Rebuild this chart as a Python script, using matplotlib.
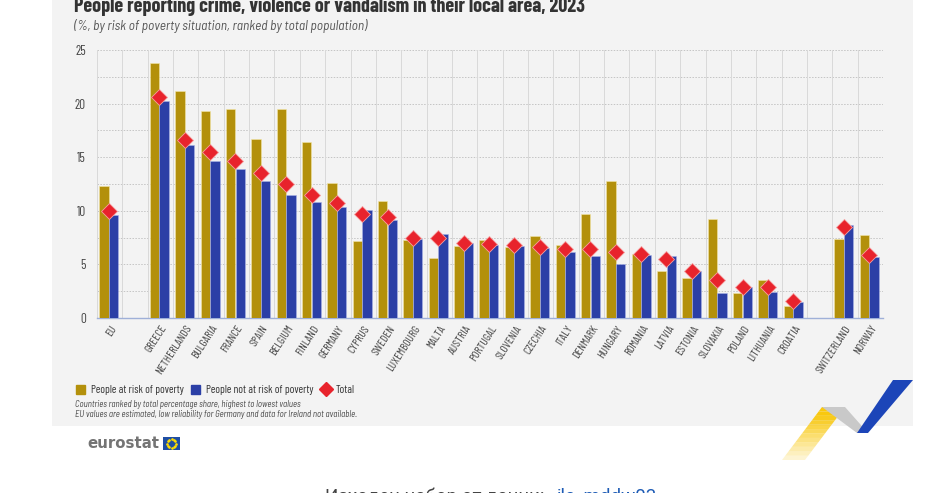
import matplotlib
matplotlib.use('Agg')
import matplotlib.pyplot as plt
from matplotlib.patches import Rectangle, Polygon
from matplotlib.lines import Line2D
import numpy as np

narrow = ['Barlow Semi Condensed', 'DejaVu Sans']
cond = ['Barlow Condensed', 'DejaVu Sans']

# ---- data ----
countries = ['EU', 'GREECE', 'NETHERLANDS', 'BULGARIA', 'FRANCE', 'SPAIN', 'BELGIUM',
             'FINLAND', 'GERMANY', 'CYPRUS', 'SWEDEN', 'LUXEMBOURG', 'MALTA', 'AUSTRIA',
             'PORTUGAL', 'SLOVENIA', 'CZECHIA', 'ITALY', 'DENMARK', 'HUNGARY', 'ROMANIA',
             'LATVIA', 'ESTONIA', 'SLOVAKIA', 'POLAND', 'LITHUANIA', 'CROATIA',
             'SWITZERLAND', 'NORWAY']
at_risk = [12.3, 23.75, 21.2, 19.3, 19.45, 16.7, 19.5, 16.4, 12.6, 7.15, 10.9, 7.3, 5.6,
           6.75, 7.3, 6.65, 7.65, 6.85, 9.7, 12.75, 6.0, 4.35, 3.7, 9.25, 2.35, 3.55, 1.15,
           7.35, 7.75]
not_at_risk = [9.6, 20.2, 16.1, 14.6, 13.9, 12.8, 11.5, 10.8, 10.4, 10.05, 9.1, 7.4, 7.8,
               6.95, 6.8, 6.75, 6.5, 6.2, 5.75, 5.0, 5.85, 5.75, 4.35, 2.35, 2.85, 2.45, 1.45,
               8.65, 5.65]
total = [10.0, 20.6, 16.6, 15.5, 14.6, 13.5, 12.5, 11.5, 10.7, 9.7, 9.4, 7.5, 7.5, 7.0,
         6.9, 6.8, 6.65, 6.45, 6.4, 6.2, 5.95, 5.5, 4.4, 3.5, 2.9, 2.85, 1.55, 8.5, 5.9]

# EU, gap, EU member states, gap, EFTA
pos = np.array([0] + list(range(2, 28)) + [29, 30])

GOLD = '#b3900b'
BLUE = '#2b3fa6'
RED = '#e8232c'
W, H = 933, 493


def px(x, y):
    return (x / W, 1 - y / H)


fig = plt.figure(figsize=(W / 100, H / 100), dpi=100)
fig.patch.set_facecolor('white')

# grey panel
x0, y0 = px(52, 426)
x1, y1 = px(913, 0)
fig.patches.append(Rectangle((x0, y0), x1 - x0, y1 - y0, transform=fig.transFigure,
                             facecolor='#f3f3f3', edgecolor='none', zorder=-5))

l, b = px(97, 318)
r, t = px(883, 50)
ax = fig.add_axes([l, b, r - l, t - b], zorder=2)
ax.set_facecolor('none')

bw = 0.37
ax.bar(pos - 0.23, at_risk, bw, color=GOLD, edgecolor='#f3e6a8', linewidth=0.4, zorder=3)
ax.bar(pos + 0.15, not_at_risk, bw, color=BLUE, edgecolor='#aab4e6', linewidth=0.4, zorder=3)
ax.plot(pos - 0.04, total, linestyle='none', marker='D', markersize=8.5, color=RED,
        markeredgecolor='#f6a0a0', markeredgewidth=0.6, zorder=4)

ax.set_xlim(-0.5, 30.5)
ax.set_ylim(0, 25)
ax.set_yticks([0, 5, 10, 15, 20, 25])
for v in np.arange(2.5, 25.1, 2.5):
    ax.axhline(v, color='#c4c4c4', linewidth=0.7, linestyle=(0, (1.5, 1.5)), zorder=1)
for v in np.arange(-0.5, 30.6, 1):
    ax.axvline(v, color='#d9d9d9', linewidth=0.7, zorder=1)

ax.set_xticks(pos)
ax.set_xticklabels(countries, rotation=57, ha='right', rotation_mode='anchor',
                   fontsize=8.3, family=cond, color='#444444')
ax.tick_params(axis='x', length=0, pad=4)
ax.tick_params(axis='y', length=0, pad=8, labelsize=9.5, labelcolor='#444444')
for lab in ax.get_yticklabels():
    lab.set_family(cond)
for s in ['top', 'right']:
    ax.spines[s].set_visible(False)
ax.spines['left'].set_color('#d9d9d9')
ax.spines['left'].set_linewidth(0.7)
ax.spines['bottom'].set_color('#9fb0d8')
ax.spines['bottom'].set_linewidth(1.0)

# title and subtitle
fig.text(*px(74, 12), 'People reporting crime, violence or vandalism in their local area, 2023',
         fontsize=14.5, fontweight='bold', family=cond, color='#333333', va='baseline')
fig.text(*px(74, 30), '(%, by risk of poverty situation, ranked by total population)',
         fontsize=9.6, style='italic', family=narrow, color='#555555', va='baseline')

# legend
handles = [Rectangle((0, 0), 1, 1, color=GOLD), Rectangle((0, 0), 1, 1, color=BLUE),
           Line2D([], [], linestyle='none', marker='D', markersize=7.5, color=RED)]
leg = fig.legend(handles, ['People at risk of poverty', 'People not at risk of poverty', 'Total'],
                 loc='center left', bbox_to_anchor=px(76, 390), ncol=3, frameon=False,
                 handlelength=0.8, handleheight=0.8, handletextpad=0.5, columnspacing=0.7,
                 prop={'family': cond, 'size': 8.1}, borderaxespad=0, borderpad=0)
for txt in leg.get_texts():
    txt.set_color('#333333')

fig.text(*px(75, 407), 'Countries ranked by total percentage share, highest to lowest values',
         fontsize=6.3, style='italic', family=narrow, color='#444444', va='baseline')
fig.text(*px(75, 417), 'EU values are estimated, low reliability for Germany and data for Ireland not available.',
         fontsize=6.3, style='italic', family=narrow, color='#444444', va='baseline')

# eurostat logo
fig.text(*px(87, 448), 'eurostat', fontsize=10.8, fontweight='bold', color='#747474',
         va='baseline', family='DejaVu Sans')
fx, fy = px(163, 450)
fig.patches.append(Rectangle((fx, fy), 17 / W, 13 / H, transform=fig.transFigure,
                             facecolor='#1f4ea3', edgecolor='none'))
ang = np.linspace(0, 2 * np.pi, 12, endpoint=False)
cx, cy = px(171.5, 443.5)
fig.add_artist(Line2D(cx + 4.2 / W * np.cos(ang), cy + 4.2 / H * np.sin(ang),
                      transform=fig.transFigure, linestyle='none', marker='o',
                      markersize=0.9, color='#ffdd00'))

# ribbon decoration
n = 12
for i in range(n):
    f0, f1 = i / n, (i + 1) / n
    yA, yB = 460 - 53 * f0, 460 - 53 * f1
    xa, xb = 782 + 40 * f0, 782 + 40 * f1
    pts = [px(xa, yA), px(xa + 23, yA), px(xb + 23, yB), px(xb, yB)]
    fig.add_artist(Polygon(pts, closed=True, transform=fig.transFigure,
                           facecolor='#f9c80e', edgecolor='none', alpha=min(1, 0.1 + f1)))
fig.add_artist(Polygon([px(822, 407), px(845, 407), px(868, 433), px(857, 433)], closed=True,
                       transform=fig.transFigure, facecolor='#c9c9c9', edgecolor='none'))
fig.add_artist(Polygon([px(857, 433), px(868, 433), px(913, 380), px(893, 380)], closed=True,
                       transform=fig.transFigure, facecolor='#1c45b8', edgecolor='none'))

# source line (cut off at the bottom edge)
fig.text(*px(325, 502), 'Изходен набор от данни: ', fontsize=13.5, color='#444444',
         va='baseline', family='Roboto')
fig.text(*px(557, 502), 'ilc_mddw03', fontsize=13.5, color='#1d5bb5',
         va='baseline', family='Roboto')

fig.savefig('out.png', dpi=100, facecolor='white')
plt.close(fig)
